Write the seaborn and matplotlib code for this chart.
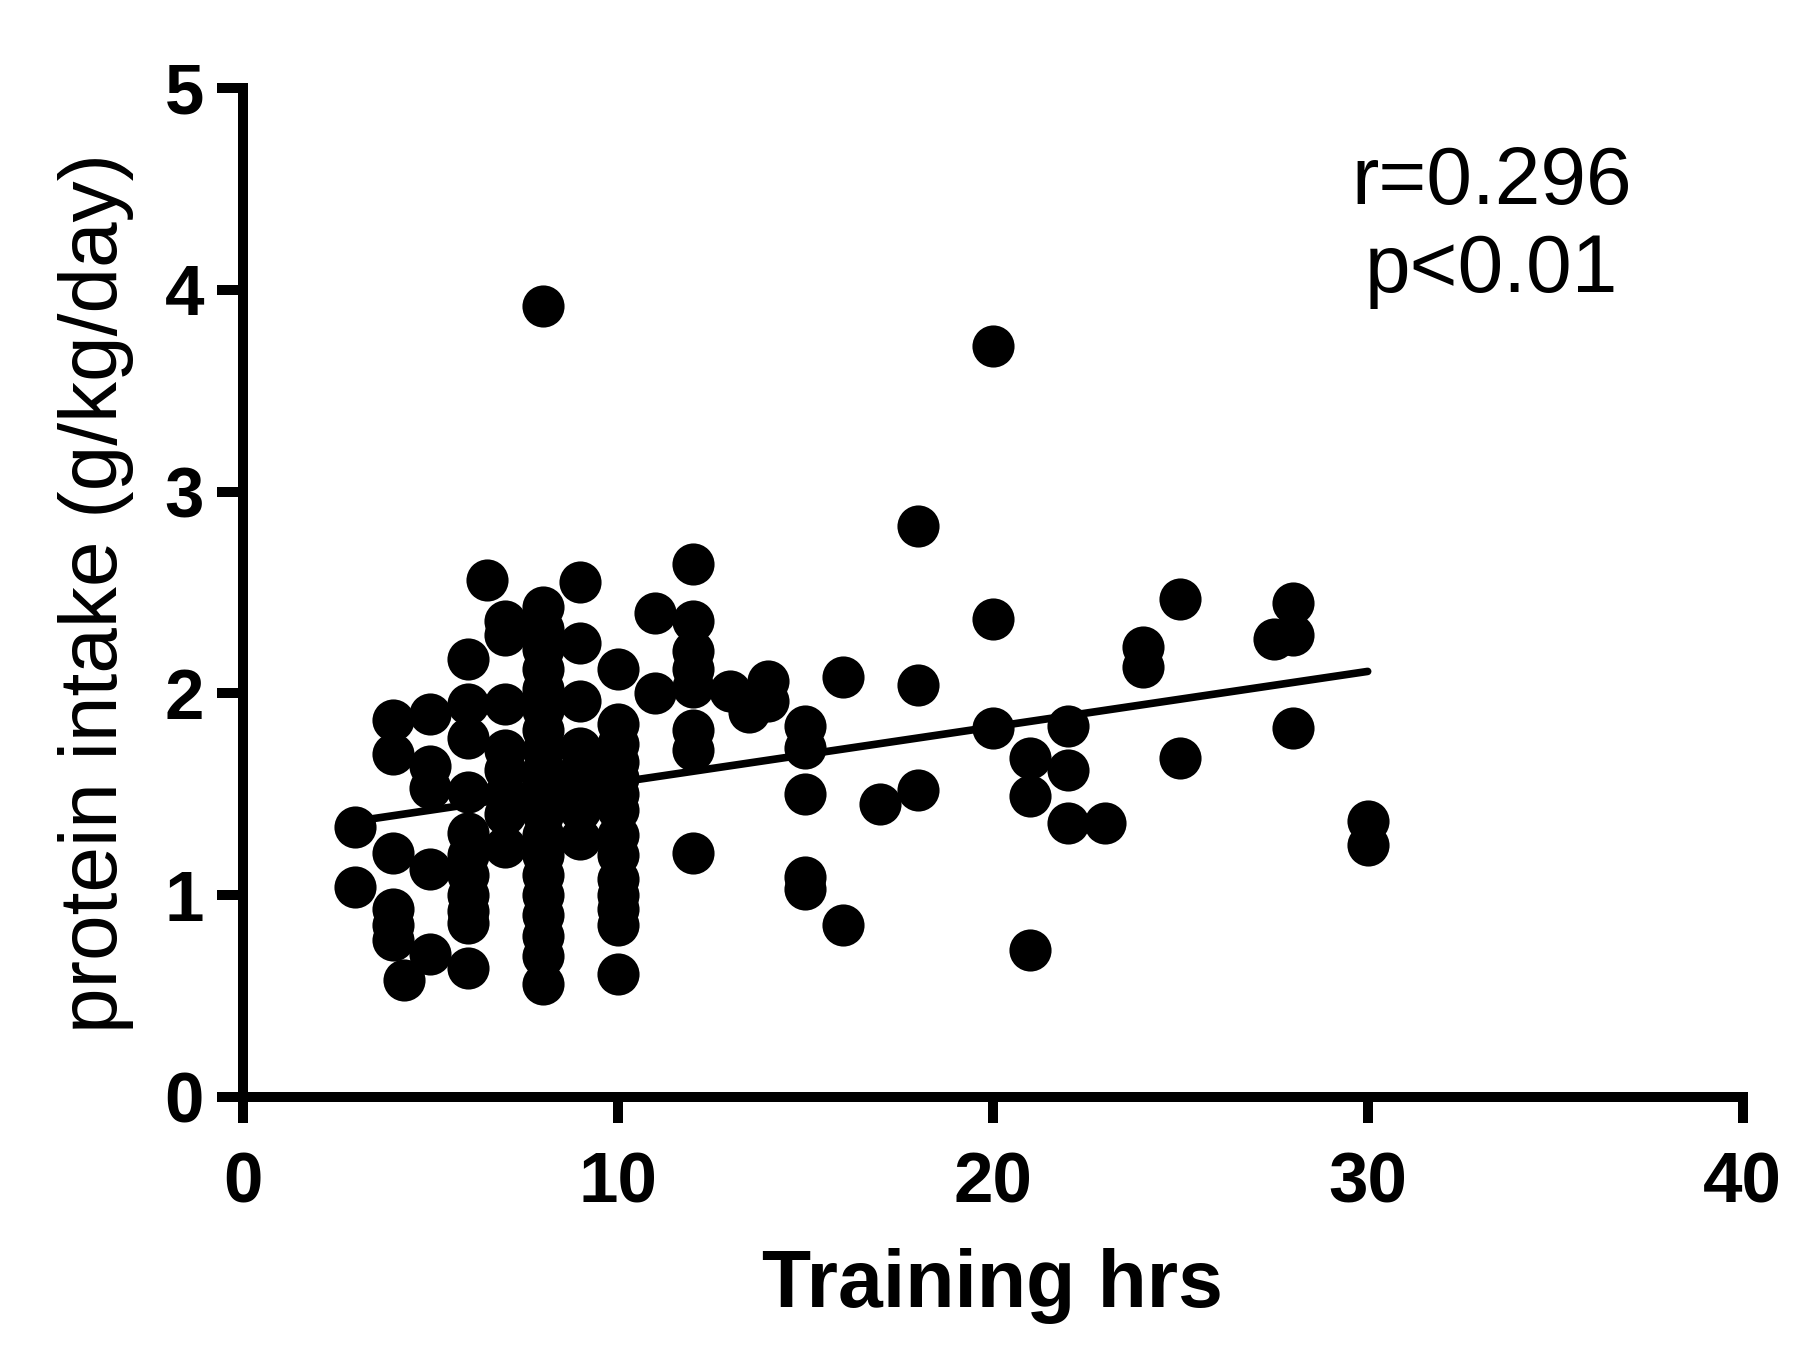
import numpy as np
import pandas as pd
import matplotlib
matplotlib.use('Agg')
import matplotlib.pyplot as plt
import seaborn as sns

# training hours per week and protein intake (g/kg/day)
hours = ([3] * 2 + [4] * 6 + [4.3] + [5] * 5 + [6] * 11 + [6.5] + [7] * 8
         + [8] * 21 + [9] * 8 + [10] * 14 + [11] * 2 + [12] * 8
         + [13, 13.5, 14, 14] + [15] * 5 + [16] * 2 + [17] + [18] * 3
         + [20] * 3 + [21] * 3 + [22] * 3 + [23] + [24] * 2 + [25] * 2
         + [27.5] + [28] * 3 + [30] * 2)

protein = ([1.34, 1.04]
           + [1.87, 1.70, 1.21, 0.93, 0.85, 0.78]
           + [0.58]
           + [1.90, 1.64, 1.53, 1.13, 0.71]
           + [2.17, 1.95, 1.78, 1.51, 1.31, 1.20, 1.10, 1.00, 0.92, 0.86, 0.64]
           + [2.56]
           + [2.36, 2.29, 1.95, 1.72, 1.62, 1.50, 1.40, 1.24]
           + [3.92, 2.43, 2.32, 2.22, 2.12, 2.02, 1.92, 1.82, 1.72, 1.62, 1.55,
              1.48, 1.40, 1.30, 1.20, 1.10, 1.00, 0.90, 0.80, 0.70, 0.56]
           + [2.55, 2.25, 1.96, 1.73, 1.62, 1.52, 1.42, 1.28]
           + [2.12, 1.85, 1.75, 1.66, 1.58, 1.50, 1.42, 1.30, 1.20, 1.08, 1.00,
              0.93, 0.85, 0.61]
           + [2.40, 2.00]
           + [2.64, 2.36, 2.21, 2.12, 2.03, 1.82, 1.72, 1.21]
           + [2.01, 1.91, 2.06, 1.96]
           + [1.84, 1.73, 1.50, 1.09, 1.03]
           + [2.08, 0.85]
           + [1.45]
           + [2.83, 2.04, 1.52]
           + [3.72, 2.37, 1.83]
           + [1.68, 1.49, 0.73]
           + [1.84, 1.62, 1.36]
           + [1.36]
           + [2.23, 2.13]
           + [2.47, 1.68]
           + [2.27]
           + [2.45, 2.29, 1.83]
           + [1.37, 1.25])

# linear fit as drawn in the figure
fit_intercept = 1.284
fit_slope = 0.0275

x_ticks = [0, 10, 20, 30, 40]
y_ticks = [0, 1, 2, 3, 4, 5]
stats_text = 'r=0.296\np<0.01'

df = pd.DataFrame({'hours': hours, 'protein': protein})

sns.set_style('ticks')
plt.rcParams['font.family'] = ['Liberation Sans', 'DejaVu Sans']
plt.rcParams.update({'text.color': 'black', 'axes.labelcolor': 'black',
                     'xtick.color': 'black', 'ytick.color': 'black',
                     'axes.edgecolor': 'black'})

fig = plt.figure(figsize=(17.97, 13.48), dpi=100)
ax = fig.add_axes([0.1352, 0.1862, 0.8345, 0.7485])

sns.scatterplot(data=df, x='hours', y='protein', ax=ax, color='black',
                s=920, linewidth=0, clip_on=False, zorder=3)

fit_x = np.array([df['hours'].min(), df['hours'].max()])
fit = pd.DataFrame({'x': fit_x, 'y': fit_intercept + fit_slope * fit_x})
sns.lineplot(data=fit, x='x', y='y', ax=ax, color='black', linewidth=5.5,
             zorder=4)

ax.set_xlim(0, 40)
ax.set_ylim(0, 5)
ax.set_xticks(x_ticks)
ax.set_yticks(y_ticks)

for side in ['top', 'right']:
    ax.spines[side].set_visible(False)
for side in ['left', 'bottom']:
    ax.spines[side].set_linewidth(7.2)
    ax.spines[side].set_capstyle('projecting')

ax.tick_params(axis='both', direction='out', length=19, width=7.2,
               labelsize=51, color='black', labelcolor='black')
ax.tick_params(axis='x', pad=20)
ax.tick_params(axis='y', pad=9)
for lab in ax.get_xticklabels() + ax.get_yticklabels():
    lab.set_fontweight('bold')

ax.set_xlabel('Training hrs', fontsize=58, fontweight='bold', labelpad=22)
ax.set_ylabel('protein intake (g/kg/day)', fontsize=59, labelpad=22)

ax.text(33.3, 4.31, stats_text, fontsize=59, ha='center', va='center',
        multialignment='center', linespacing=1.2)

fig.savefig('out.png', dpi=100)
plt.close()
